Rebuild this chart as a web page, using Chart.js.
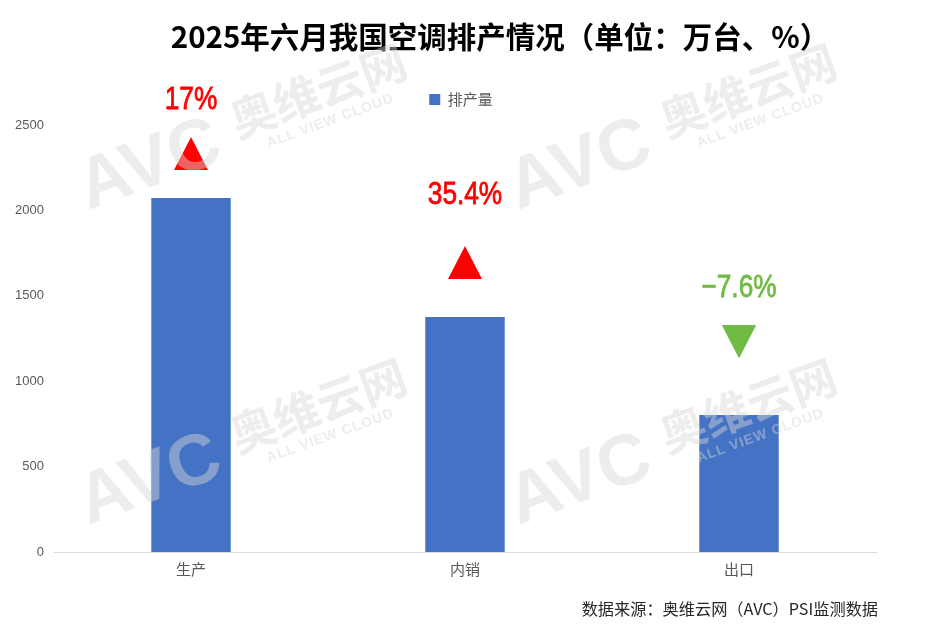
<!DOCTYPE html>
<html>
<head>
<meta charset="utf-8">
<style>
  html, body { margin: 0; padding: 0; background: #fff; }
  canvas { display: block; }
</style>
<script src="https://cdn.jsdelivr.net/npm/chart.js@4/dist/chart.umd.min.js"></script>
</head>
<body>
<canvas id="c" width="944" height="630"></canvas>
<script>
var categories = ['生产', '内销', '出口'];
var seriesName = '排产量';
var volumes = [2072, 1376, 802];
var yTicks = [0, 500, 1000, 1500, 2000, 2500];
var growthLabels = ['17%', '35.4%', '−7.6%'];
var growthColors = ['#ff0000', '#ff0000', '#71bb45'];
var growthDirections = ['up', 'up', 'down'];
var arrowLevels = [2333, 1695, 1230];
var labelLevels = [2646, 2090, 1543];

var FONT = '"Noto Sans CJK SC", "Noto Sans", sans-serif';

function arrowImage(color, dir) {
    var w = 34, h = 33;
    var cv = document.createElement('canvas');
    cv.width = w;
    cv.height = h;
    var g = cv.getContext('2d');
    g.fillStyle = color;
    g.beginPath();
    if (dir === 'up') {
        g.moveTo(w / 2, 0);
        g.lineTo(w, h);
        g.lineTo(0, h);
    } else {
        g.moveTo(0, 0);
        g.lineTo(w, 0);
        g.lineTo(w / 2, h);
    }
    g.closePath();
    g.fill();
    return cv;
}

// title, source line, growth labels and the faint AVC watermark
var extras = {
    id: 'extras',
    afterLayout: function(chart) {
        // the legend sits over the plot, a little above where the layout puts it
        chart.legend.left += 23;
        chart.legend.right += 23;
        chart.legend.top -= 8;
    },
    afterDraw: function(chart) {
        var ctx = chart.ctx;
        var x = chart.scales.x;
        var y = chart.scales.y;

        ctx.save();
        ctx.textBaseline = 'middle';
        ctx.textAlign = 'center';
        growthLabels.forEach(function(t, i) {
            ctx.save();
            ctx.translate(x.getPixelForValue(i), y.getPixelForValue(labelLevels[i]));
            ctx.scale(0.82, 1);
            ctx.font = '32px "Liberation Sans", sans-serif';
            ctx.fillStyle = growthColors[i];
            ctx.strokeStyle = growthColors[i];
            ctx.lineWidth = 0.8;
            ctx.fillText(t, 0, 0);
            ctx.strokeText(t, 0, 0);
            ctx.restore();
        });

        ctx.fillStyle = '#000';
        ctx.font = 'bold 29.5px ' + FONT;
        ctx.fillText('2025年六月我国空调排产情况（单位：万台、%）', 500, 37);

        ctx.fillStyle = '#262626';
        ctx.font = '16.2px ' + FONT;
        ctx.textAlign = 'right';
        ctx.fillText('数据来源：奥维云网（AVC）PSI监测数据', 878, 609);

        [[88, 210], [518, 210], [88, 525], [518, 525]].forEach(function(p) {
            ctx.save();
            ctx.translate(p[0], p[1]);
            ctx.rotate(-20 * Math.PI / 180);
            ctx.textAlign = 'left';
            ctx.textBaseline = 'alphabetic';
            ctx.fillStyle = 'rgba(215,215,215,0.45)';
            ctx.font = 'bold 72px "Liberation Sans", sans-serif';
            ctx.fillText('AVC', 0, 0);
            ctx.font = 'bold 46px ' + FONT;
            ctx.fillText('奥维云网', 165, -16);
            ctx.font = 'bold 14px "Liberation Sans", sans-serif';
            ctx.letterSpacing = '1px';
            ctx.fillText('ALL VIEW CLOUD', 191, 3);
            ctx.restore();
        });
        ctx.restore();
    }
};

new Chart(document.getElementById('c').getContext('2d'), {
    type: 'bar',
    data: {
        labels: categories,
        datasets: [
            {
                label: seriesName,
                data: volumes,
                backgroundColor: '#4472c4',
                barPercentage: 0.29,
                categoryPercentage: 1,
                order: 2
            },
            {
                type: 'line',
                label: 'arrows',
                data: arrowLevels,
                showLine: false,
                pointStyle: growthColors.map(function(c, i) {
                    return arrowImage(c, growthDirections[i]);
                }),
                order: 1
            }
        ]
    },
    options: {
        responsive: false,
        animation: false,
        layout: { padding: { top: 90, right: 68, bottom: 44, left: 0 } },
        plugins: {
            title: { display: false },
            tooltip: { enabled: false },
            legend: {
                position: 'top',
                labels: {
                    boxWidth: 11,
                    boxHeight: 11,
                    padding: 10,
                    color: '#595959',
                    font: { family: FONT, size: 15 },
                    filter: function(item) { return item.text === seriesName; }
                }
            }
        },
        scales: {
            x: {
                grid: { display: false, drawTicks: false },
                border: { color: '#d9d9d9' },
                ticks: { color: '#595959', padding: 8, font: { family: FONT, size: 15 } }
            },
            y: {
                min: 0,
                max: 2500,
                afterFit: function(scale) { scale.width = 54; },
                afterBuildTicks: function(scale) {
                    scale.ticks = yTicks.map(function(v) { return { value: v }; });
                },
                grid: { display: false, drawTicks: false },
                border: { display: false },
                ticks: {
                    color: '#595959',
                    padding: 10,
                    font: { family: '"Liberation Sans", sans-serif', size: 13 },
                    callback: function(v) { return String(v); }
                }
            }
        }
    },
    plugins: [extras]
});
</script>
</body>
</html>
